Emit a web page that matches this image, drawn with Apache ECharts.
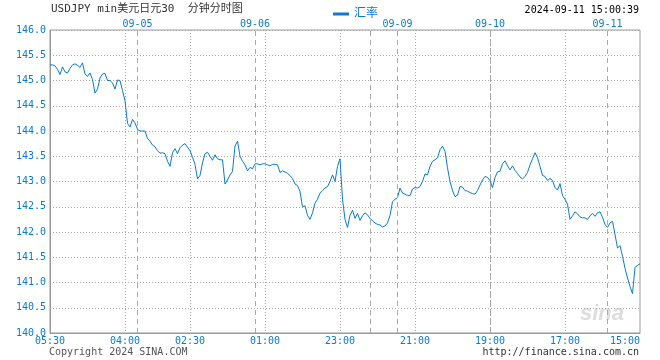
<!DOCTYPE html>
<html>
<head>
<meta charset="utf-8">
<script src="https://cdn.jsdelivr.net/npm/echarts@6/dist/echarts.min.js"></script>
<style>html,body{margin:0;padding:0;background:#fff}#c{width:660px;height:360px}</style>
</head>
<body>
<div id="c"></div>
<script>
// --- data ---
var rateValues = [
145.31,145.31,145.29,145.22,145.12,145.27,145.17,145.15,145.24,145.31,
145.33,145.30,145.26,145.35,145.13,145.08,145.15,145.02,144.75,144.83,
145.05,145.13,145.14,145.00,145.00,144.95,144.83,145.01,145.00,144.80,
144.60,144.15,144.08,144.23,144.16,144.03,144.00,144.00,144.00,143.85,
143.80,143.72,143.69,143.61,143.56,143.57,143.55,143.40,143.30,143.57,
143.65,143.55,143.67,143.72,143.75,143.68,143.61,143.48,143.34,143.05,
143.12,143.37,143.55,143.58,143.50,143.42,143.53,143.45,143.43,143.43,
142.95,143.03,143.13,143.20,143.70,143.80,143.50,143.40,143.33,143.21,
143.28,143.25,143.35,143.35,143.33,143.35,143.35,143.33,143.31,143.34,
143.34,143.33,143.18,143.21,143.19,143.16,143.12,143.06,142.95,142.92,
142.80,142.50,142.52,142.33,142.25,142.38,142.57,142.65,142.77,142.82,
142.87,142.90,143.00,143.13,143.00,143.30,143.45,142.65,142.25,142.09,
142.33,142.43,142.27,142.37,142.23,142.32,142.38,142.34,142.27,142.22,
142.18,142.15,142.14,142.10,142.12,142.18,142.33,142.60,142.65,142.68,
142.87,142.77,142.75,142.72,142.72,142.85,142.88,142.87,142.90,143.00,
143.15,143.13,143.30,143.40,143.43,143.47,143.63,143.70,143.60,143.27,
143.00,142.82,142.70,142.73,142.90,142.89,142.82,142.81,142.78,142.76,
142.75,142.82,142.93,143.03,143.10,143.08,143.02,142.88,143.08,143.19,
143.20,143.35,143.41,143.31,143.23,143.31,143.22,143.16,143.09,143.05,
143.10,143.18,143.33,143.45,143.57,143.47,143.30,143.12,143.10,143.02,
143.06,143.02,142.88,142.83,142.96,142.72,142.65,142.55,142.25,142.32,
142.40,142.36,142.30,142.28,142.28,142.25,142.32,142.37,142.31,142.38,
142.40,142.29,142.15,142.09,142.18,142.21,141.95,141.68,141.73,141.52,
141.28,141.09,140.92,140.78,141.30,141.34,141.37
];
var timeLabels = ['05:30','04:00','02:30','01:00','23:00','21:00','19:00','17:00','15:00'];
var timeLabelIndex = [0,30,56,86,116,146,176,206,236];
var dateLabels = ['09-05','09-06','09-09','09-10','09-11'];
var dateLabelIndex = [35,82,139,176,223];
var daySeparatorIndex = [35,82,128,139,176,223];
var seriesName = '汇率';
var titleText = 'USDJPY min美元日元30  分钟分时图';
var stampText = '2024-09-11 15:00:39';
var copyText = 'Copyright 2024 SINA.COM';
var urlText = 'http://finance.sina.com.cn';

// --- build ---
var N = rateValues.length;
var bottomCats = [], topCats = [];
for (var i = 0; i < N; i++) { bottomCats.push(String(i)); topCats.push(String(i)); }
var bottomMap = {}, topMap = {};
timeLabelIndex.forEach(function (k, j) { bottomMap[k] = timeLabels[j]; });
dateLabelIndex.forEach(function (k, j) { topMap[k] = dateLabels[j]; });

var BLUE = '#0a7bd0';
var MONO = "'DejaVu Sans Mono', 'Noto Sans CJK SC', monospace";
var chart = echarts.init(document.getElementById('c'), null, {renderer: 'canvas'});
chart.setOption({
  animation: false,
  backgroundColor: '#fff',
  grid: {left: 50, right: 20, top: 30, bottom: 27, show: true, borderColor: '#999', borderWidth: 1, backgroundColor: 'transparent'},
  legend: {
    left: 328, top: 3, data: [seriesName], icon: 'rect', itemWidth: 16, itemHeight: 3, itemGap: 5,
    textStyle: {color: BLUE, fontSize: 12, fontFamily: MONO}
  },
  xAxis: [{
    type: 'category', data: bottomCats, boundaryGap: false, position: 'bottom',
    axisLine: {show: true, lineStyle: {color: '#999'}},
    axisTick: {show: false},
    axisLabel: {
      interval: function (idx) { return bottomMap[idx] !== undefined; },
      formatter: function (v, idx) { return bottomMap[idx] || ''; },
      color: BLUE, fontSize: 10, fontFamily: MONO, margin: 3, alignMaxLabel: 'right', alignMinLabel: 'center'
    },
    splitLine: {show: true, interval: function (idx) { return bottomMap[idx] !== undefined && idx > 0 && idx < N - 1; },
      lineStyle: {color: '#aaa', type: [1, 2], width: 1}}
  }, {
    type: 'category', data: topCats, boundaryGap: false, position: 'top',
    axisLine: {show: false}, axisTick: {show: false}, splitLine: {show: false},
    axisLabel: {
      interval: function (idx) { return topMap[idx] !== undefined; },
      formatter: function (v, idx) { return topMap[idx] || ''; },
      color: BLUE, fontSize: 10, fontFamily: MONO, margin: 1
    }
  }],
  yAxis: {
    type: 'value', min: 140, max: 146, interval: 0.5,
    axisLine: {show: true, lineStyle: {color: '#999'}},
    axisTick: {show: false},
    axisLabel: {formatter: function (v) { return v.toFixed(1); }, color: BLUE, fontSize: 10, fontFamily: MONO, margin: 4},
    splitLine: {show: true, lineStyle: {color: '#aaa', type: [1, 2], width: 1}}
  },
  graphic: [
    {type: 'text', left: 51, top: 4, style: {text: titleText, fill: '#333', font: '11px ' + MONO}},
    {type: 'text', right: 21, top: 5, style: {text: stampText, fill: '#000', font: '10px ' + MONO}},
    {type: 'text', left: 49, top: 347, style: {text: copyText, fill: '#555', font: '10px ' + MONO}},
    {type: 'text', right: 21, top: 347, style: {text: urlText, fill: '#333', font: '10px ' + MONO}},
    {type: 'text', left: 580, top: 303, z: 0, style: {text: 'sina', fill: '#ddd', font: 'italic bold 22px Arial, sans-serif'}}
  ],
  series: [{
    name: seriesName, type: 'line', data: rateValues, showSymbol: false, symbol: 'none',
    lineStyle: {color: BLUE, width: 1}, itemStyle: {color: BLUE},
    markLine: {
      silent: true, symbol: 'none', label: {show: false},
      lineStyle: {color: '#aaa', type: [5, 4], width: 1},
      data: daySeparatorIndex.map(function (k) { return {xAxis: k}; })
    },
    z: 3
  }]
});
</script>
</body>
</html>
